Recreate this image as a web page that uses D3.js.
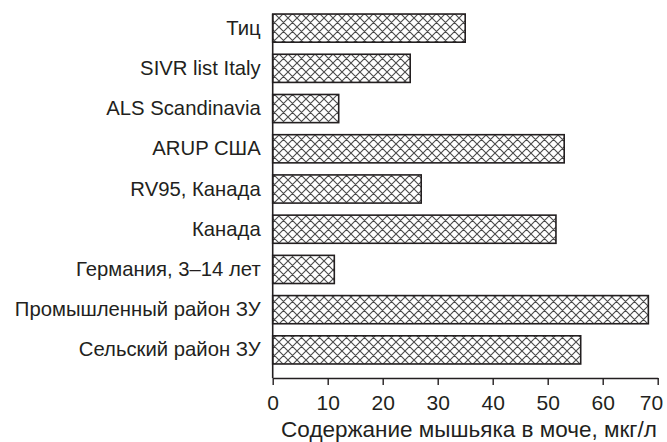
<!DOCTYPE html>
<html>
<head>
<meta charset="utf-8">
<script src="https://cdn.jsdelivr.net/npm/d3@7.9.0/dist/d3.min.js"></script>
<style>
  body { margin: 0; background: #fff; }
  text { font-family: "Liberation Sans", Arial, sans-serif; fill: #231f20; }
</style>
</head>
<body>
<svg id="chart" width="667" height="442"></svg>
<script>
const categories = ['Тиц', 'SIVR list Italy', 'ALS Scandinavia', 'ARUP США', 'RV95, Канада',
  'Канада', 'Германия, 3–14 лет', 'Промышленный район ЗУ', 'Сельский район ЗУ'];
const values = [35, 25, 12, 53, 27, 51.5, 11.2, 68.3, 56];
const xTicks = [0, 10, 20, 30, 40, 50, 60, 70];
const xTitle = 'Содержание мышьяка в моче, мкг/л';

const svg = d3.select('#chart');
const ink = '#231f20';
const left = 272.7, right = 657.7, axisY = 378;

// crosshatch fill
const pat = svg.append('defs').append('pattern')
  .attr('id', 'hatch').attr('patternUnits', 'userSpaceOnUse')
  .attr('width', 9).attr('height', 9);
pat.append('rect').attr('width', 9).attr('height', 9).attr('fill', '#fff');
pat.append('path').attr('d', 'M0,0L9,9M0,9L9,0M-1,8L1,10M8,-1L10,1M-1,1L1,-1M8,10L10,8')
  .attr('stroke', '#4a4a4a').attr('stroke-width', 1.1);

let x = d3.scaleLinear().domain([0, 70]).range([left, right]);
let y = d3.scaleBand().domain(categories).range([8, 370]).paddingInner(0.3).paddingOuter(0.15);

svg.selectAll('rect.bar')
  .data(categories)
  .join('rect')
  .attr('class', 'bar')
  .attr('x', x(0))
  .attr('y', (d) => y(d))
  .attr('width', (d, i) => x(values[i]) - x(0))
  .attr('height', y.bandwidth())
  .attr('fill', 'url(#hatch)')
  .attr('stroke', ink)
  .attr('stroke-width', 1.6);

// y axis: spine plus labels, no ticks
let yAxis = svg.append('g').attr('transform', `translate(${left},0)`)
  .call(d3.axisLeft(y).tickSize(0).tickPadding(12));
yAxis.select('.domain').remove();
yAxis.selectAll('text').attr('font-size', 20.3).style('fill', ink);
svg.append('line')
  .attr('x1', left).attr('x2', left)
  .attr('y1', y(categories[0])).attr('y2', axisY)
  .attr('stroke', ink).attr('stroke-width', 1.6);

// x axis
let xAxis = svg.append('g').attr('transform', `translate(0,${axisY})`)
  .call(d3.axisBottom(x).tickValues(xTicks).tickSize(7).tickSizeOuter(0).tickPadding(10));
xAxis.select('.domain').attr('stroke', ink).attr('stroke-width', 1.6);
xAxis.selectAll('.tick line').attr('stroke', ink).attr('stroke-width', 1.4);
xAxis.selectAll('text').attr('font-size', 21).style('fill', ink);
// last label pulled in so it stays on the page
xAxis.selectAll('.tick text').filter((d) => d === 70).attr('text-anchor', 'end').attr('x', 5);

svg.append('text')
  .attr('x', 469)
  .attr('y', 437)
  .attr('text-anchor', 'middle')
  .attr('font-size', 22.5)
  .text(xTitle);
</script>
</body>
</html>
